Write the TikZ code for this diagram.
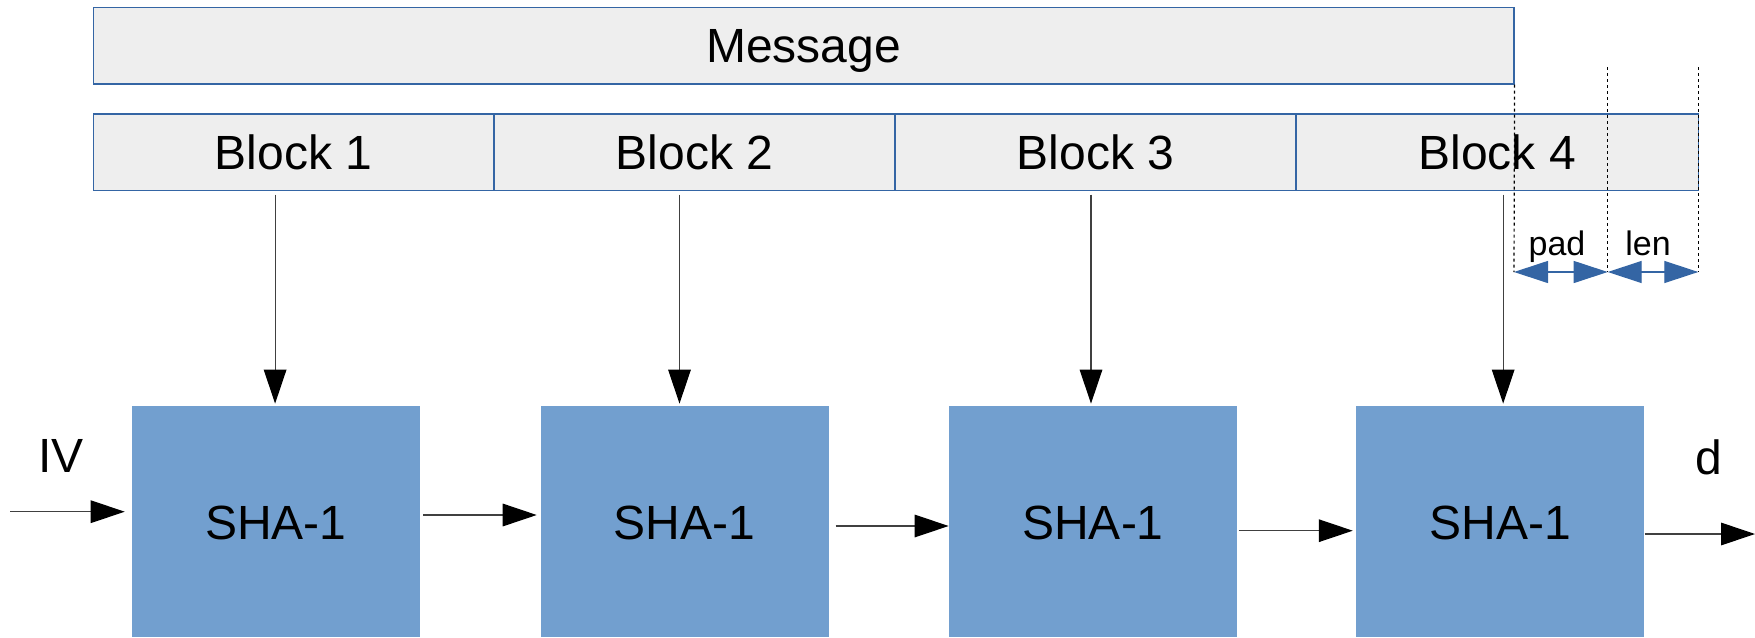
\documentclass[tikz,border=0pt]{standalone}
\usepackage{fontspec}
\setmainfont{Liberation Sans}
\usetikzlibrary{arrows.meta}
\definecolor{blockfill}{HTML}{EEEEEE}
\definecolor{blockline}{HTML}{3465A4}
\definecolor{shafill}{HTML}{729FCF}
\definecolor{padblue}{HTML}{3465A4}
\begin{document}
\begin{tikzpicture}[x=0.5pt,y=-0.5pt,
  bigtext/.style={font=\fontsize{24}{28}\selectfont},
  smalltext/.style={font=\fontsize{17}{20}\selectfont},
  strip/.style={draw=blockline, line width=0.55pt, fill=blockfill, inner sep=0pt,
    minimum height=38.35pt, text height=17pt, text depth=0pt, bigtext},
  shabox/.style={fill=shafill, draw=none, inner sep=0pt, minimum width=144pt,
    minimum height=115.5pt, text height=17.5pt, text depth=0pt, bigtext},
  conn/.style={draw=black!75, line width=0.6pt,
    -{Triangle[length=17pt,width=11.3pt,color=black]}},
  guide/.style={draw=black, line width=0.6pt, dash pattern=on 1.5pt off 1.5pt},
  padarr/.style={draw=padblue, line width=0.6pt,
    {Triangle[length=17pt,width=11pt]}-{Triangle[length=17pt,width=11pt]}},
]
\useasboundingbox (0,0) rectangle (1755,637);

% message and its blocks
\node[strip, minimum width=710.35pt] (msg) at (803.65,45.65) {Message};
\node[strip, minimum width=200.35pt] (b1) at (293.65,152.35) {Block 1};
\node[strip, minimum width=200.5pt]  (b2) at (694.5,152.35) {Block 2};
\node[strip, minimum width=200.5pt]  (b3) at (1095.5,152.35) {Block 3};
\node[strip, minimum width=201.15pt] (b4) at (1497.15,152.35) {Block 4};

% compression function stages
\node[shabox] (s1) at (275.7,521.5) {SHA-1};
\node[shabox] (s2) at (684.5,521.5) {SHA-1};
\node[shabox] (s3) at (1093,521.5) {SHA-1};
\node[shabox] (s4) at (1500.15,521.5) {SHA-1};

% block inputs
\coordinate (v1) at ([xshift=-0.3pt]s1.north);
\coordinate (v2) at ([xshift=-2.5pt]s2.north);
\coordinate (v3) at ([xshift=-1pt]s3.north);
\coordinate (v4) at ([xshift=1.5pt]s4.north);
\foreach \i in {1,2,3,4}{
  \draw[conn, shorten <=1.7pt, shorten >=1pt] (b\i.south -| v\i) -- (v\i);
}

% chaining values
\coordinate (ivin) at (10,511.7);
\coordinate (r12) at (0,515);
\coordinate (r23) at (0,526);
\coordinate (r34) at (0,530.7);
\coordinate (dout) at (1755,534);
\draw[conn, shorten >=3.3pt] (ivin) -- (ivin -| s1.west);
\draw[conn, shorten <=1.6pt, shorten >=1.7pt] (r12 -| s1.east) -- (r12 -| s2.west);
\draw[conn, shorten <=3.3pt] (r23 -| s2.east) -- (r23 -| s3.west);
\draw[conn, shorten <=0.6pt, shorten >=1.5pt] (r34 -| s3.east) -- (r34 -| s4.west);
\draw[conn] (dout -| s4.east) -- (dout);

\node[bigtext, anchor=base] (ivlbl) at (61,472.7) {IV};
\node[bigtext, anchor=base] (dlbl) at (1708.7,474) {d};

% padding and length fields
\coordinate (gtop) at (0,67);
\coordinate (g1) at (1514,272);
\coordinate (g2) at (1607.7,272);
\coordinate (g3) at (1698.3,272);
\draw[guide] (msg.south east) -- (g1);
\draw[guide] (g2 |- gtop) -- (g2);
\draw[guide] (g3 |- gtop) -- (g3);
\draw[padarr] (g1) -- (g2);
\draw[padarr] (g2) -- (g3);
\node[smalltext, anchor=base] (padlbl) at (1557,255) {pad};
\node[smalltext, anchor=base] (lenlbl) at (1648,255) {len};
\end{tikzpicture}
\end{document}
